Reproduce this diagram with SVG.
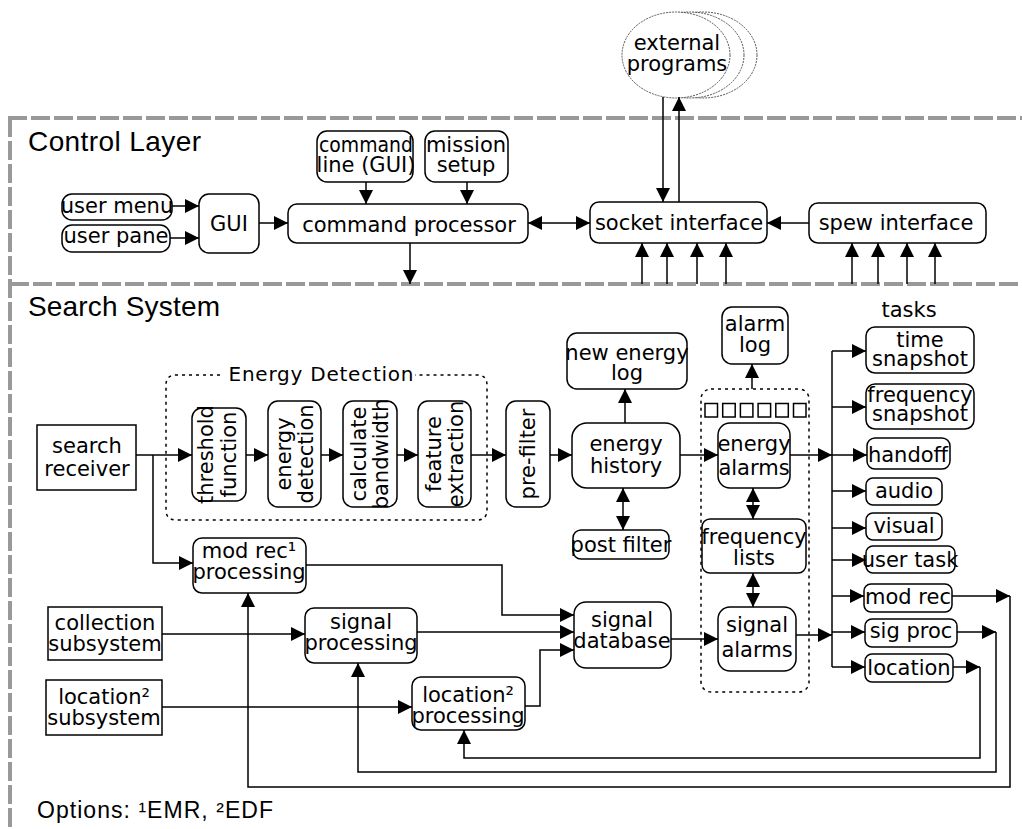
<svg xmlns="http://www.w3.org/2000/svg" width="1022" height="829" viewBox="0 0 1022 829">
<style>
.bg{fill:#fff}
.box{fill:#fff;stroke:#000;stroke-width:1.5}
.t{font-family:"DejaVu Sans",sans-serif;font-size:21px;text-anchor:middle;fill:#000}
.title{font-family:"Liberation Sans",Arial,sans-serif;font-size:28px;fill:#000}
.c{fill:none;stroke:#000;stroke-width:1.5}
.a{marker-end:url(#ah)}
.d{marker-start:url(#ahs);marker-end:url(#ah)}
.frame{fill:none;stroke:#999;stroke-width:4;stroke-dasharray:19 4}
.dot{fill:none;stroke:#000;stroke-width:1.5;stroke-dasharray:3 4}
.ell{fill:#fff;stroke:#555;stroke-width:1;stroke-dasharray:2 1}
</style>
<defs>
<marker id="ah" markerUnits="userSpaceOnUse" markerWidth="14" markerHeight="14" refX="14" refY="7" orient="auto"><path d="M0,0 L14,7 L0,14 z" fill="#000"/></marker>
<marker id="ahs" markerUnits="userSpaceOnUse" markerWidth="14" markerHeight="14" refX="14" refY="7" orient="auto-start-reverse"><path d="M0,0 L14,7 L0,14 z" fill="#000"/></marker>
</defs>
<rect class="bg" x="0" y="0" width="1022" height="829"/>

<g id="frame">
<path class="frame" d="M8,118 H1022"/>
<path class="frame" d="M10,284 H1022"/>
<path class="frame" d="M10,118 V829"/>
</g>
<text class="title" x="28" y="151" textLength="173" lengthAdjust="spacing">Control Layer</text>
<text class="title" x="28" y="316" textLength="192" lengthAdjust="spacing">Search System</text>
<text class="title" x="37" y="818" style="font-size:23px" textLength="236" lengthAdjust="spacing">Options: ¹EMR,  ²EDF</text>

<g id="external-programs">
<ellipse class="ell" cx="703" cy="55" rx="54" ry="43"/>
<ellipse class="ell" cx="690" cy="55" rx="54" ry="43"/>
<ellipse class="ell" cx="676" cy="55" rx="54" ry="43"/>
<text class="t" x="677" y="50">external</text>
<text class="t" x="677" y="71">programs</text>
</g>

<g id="energy-detection-group">
<path class="dot" d="M220,375 H176 Q166,375 166,385 V510 Q166,520 176,520 H477 Q487,520 487,510 V385 Q487,375 477,375 H415"/>
<text class="t" x="321" y="381" style="font-size:20px" textLength="185" lengthAdjust="spacing">Energy Detection</text>
</g>
<g id="alarm-group">
<rect class="dot" x="701" y="389" width="108" height="303" rx="10"/>
<rect class="box" x="705" y="403.5" width="12.5" height="13.5"/>
<rect class="box" x="722.7" y="403.5" width="12.5" height="13.5"/>
<rect class="box" x="740.4" y="403.5" width="12.5" height="13.5"/>
<rect class="box" x="758.1" y="403.5" width="12.5" height="13.5"/>
<rect class="box" x="775.8" y="403.5" width="12.5" height="13.5"/>
<rect class="box" x="793.5" y="403.5" width="12.5" height="13.5"/>
</g>

<g id="connectors">
<path class="c a" d="M172,206 H199"/>
<path class="c a" d="M170,238 H199"/>
<path class="c a" d="M259,223 H288"/>
<path class="c a" d="M366,182 V204"/>
<path class="c a" d="M467,182 V204"/>
<path class="c a" d="M410,243 V284"/>
<path class="c d" d="M528,223 H590"/>
<path class="c a" d="M809,223 H767"/>
<path class="c a" d="M663,97 V202"/>
<path class="c a" d="M679,202 V97"/>
<path class="c a" d="M642,284 V243"/>
<path class="c a" d="M667,284 V243"/>
<path class="c a" d="M697,284 V243"/>
<path class="c a" d="M726,284 V243"/>
<path class="c a" d="M852,284 V243"/>
<path class="c a" d="M878,284 V243"/>
<path class="c a" d="M907,284 V243"/>
<path class="c a" d="M935,284 V243"/>

<path class="c a" d="M136,455 H192"/>
<path class="c a" d="M153,455 V563 H193"/>
<path class="c a" d="M246,455 H268"/>
<path class="c a" d="M321,455 H343"/>
<path class="c a" d="M397,455 H418"/>
<path class="c a" d="M471,455 H506"/>
<path class="c a" d="M550,455 H572"/>
<path class="c a" d="M625,423 V389"/>
<path class="c d" d="M623,488 V530"/>
<path class="c a" d="M680,455 H718"/>
<path class="c a" d="M752,389 V364"/>
<path class="c a" d="M790,455 H832"/>
<path class="c d" d="M753,488 V519"/>
<path class="c d" d="M753,573 V607"/>
<path class="c a" d="M671,639 H718"/>
<path class="c a" d="M796,635 H832"/>
<path class="c" d="M832,351 V667"/>
<path class="c a" d="M832,351 H866"/>
<path class="c a" d="M832,407 H866"/>
<path class="c a" d="M832,455 H867"/>
<path class="c a" d="M832,491 H866"/>
<path class="c a" d="M832,528 H866"/>
<path class="c a" d="M832,560 H866"/>
<path class="c a" d="M832,596 H864"/>
<path class="c a" d="M832,632 H865"/>
<path class="c a" d="M832,667 H865"/>
<path class="c a" d="M952,596 H1010"/>
<path class="c a" d="M1010,596 V787 H248 V593"/>
<path class="c a" d="M957,632 H996"/>
<path class="c a" d="M996,632 V772 H358 V663"/>
<path class="c a" d="M953,667 H980"/>
<path class="c a" d="M980,667 V758 H464 V730"/>
<path class="c a" d="M306,565 H502 V615 H574"/>
<path class="c a" d="M162,634 H305"/>
<path class="c a" d="M417,632 H574"/>
<path class="c a" d="M162,707 H412"/>
<path class="c a" d="M525,706 H540 V650 H574"/>
</g>

<g id="user-menu"><rect class="box" x="62" y="194" width="110" height="26" rx="10"/><text class="t" x="117" y="213">user menu</text></g>
<g id="user-pane"><rect class="box" x="62" y="225" width="108" height="27" rx="10"/><text class="t" x="116" y="243">user pane</text></g>
<g id="gui"><rect class="box" x="199" y="194" width="60" height="59" rx="10"/><text class="t" x="229" y="231">GUI</text></g>
<g id="command-processor"><rect class="box" x="288" y="204" width="240" height="39" rx="9"/><text class="t" x="409" y="232">command processor</text></g>
<g id="command-line"><rect class="box" x="317" y="131" width="96" height="51" rx="10"/><text class="t" x="366" y="152" textLength="94" lengthAdjust="spacingAndGlyphs">command</text><text class="t" x="366" y="172">line (GUI)</text></g>
<g id="mission-setup"><rect class="box" x="425" y="131" width="83" height="51" rx="10"/><text class="t" x="466" y="152">mission</text><text class="t" x="466" y="172">setup</text></g>
<g id="socket-interface"><rect class="box" x="590" y="202" width="177" height="41" rx="9"/><text class="t" x="679" y="230">socket interface</text></g>
<g id="spew-interface"><rect class="box" x="809" y="203" width="177" height="40" rx="9"/><text class="t" x="896" y="230">spew interface</text></g>

<g id="search-receiver"><rect class="box" x="37" y="425" width="99" height="65"/><text class="t" x="87" y="453">search</text><text class="t" x="87" y="476">receiver</text></g>
<g id="threshold-function"><rect class="box" x="192" y="408" width="54" height="93" rx="10"/><text class="t" transform="translate(219,454.5) rotate(-90)"><tspan x="0" y="-6">threshold</tspan><tspan x="0" y="17">function</tspan></text></g>
<g id="energy-detection"><rect class="box" x="268" y="401" width="53" height="106" rx="10"/><text class="t" transform="translate(294.5,454) rotate(-90)"><tspan x="0" y="-4">energy</tspan><tspan x="0" y="18">detection</tspan></text></g>
<g id="calculate-bandwidth"><rect class="box" x="343" y="401" width="54" height="106" rx="10"/><text class="t" transform="translate(370,454) rotate(-90)"><tspan x="0" y="-4">calculate</tspan><tspan x="0" y="18">bandwidth</tspan></text></g>
<g id="feature-extraction"><rect class="box" x="418" y="401" width="53" height="106" rx="10"/><text class="t" transform="translate(444.5,454) rotate(-90)"><tspan x="0" y="-4">feature</tspan><tspan x="0" y="18">extraction</tspan></text></g>
<g id="pre-filter"><rect class="box" x="506" y="401" width="44" height="106" rx="10"/><text class="t" transform="translate(528,454) rotate(-90)"><tspan x="0" y="7">pre-filter</tspan></text></g>
<g id="energy-history"><rect class="box" x="572" y="423" width="108" height="65" rx="15"/><text class="t" x="626" y="451">energy</text><text class="t" x="626" y="473">history</text></g>
<g id="new-energy-log"><rect class="box" x="567" y="333" width="120" height="56" rx="10"/><text class="t" x="627" y="360">new energy</text><text class="t" x="627" y="380">log</text></g>
<g id="post-filter"><rect class="box" x="573" y="530" width="96" height="29" rx="8"/><text class="t" x="621" y="552">post filter</text></g>
<g id="alarm-log"><rect class="box" x="722" y="307" width="66" height="57" rx="10"/><text class="t" x="755" y="331">alarm</text><text class="t" x="755" y="352">log</text></g>
<g id="energy-alarms"><rect class="box" x="718" y="423" width="72" height="65" rx="12"/><text class="t" x="754" y="451">energy</text><text class="t" x="754" y="475">alarms</text></g>
<g id="frequency-lists"><rect class="box" x="702" y="519" width="104" height="54" rx="8"/><text class="t" x="754" y="544">frequency</text><text class="t" x="754" y="565">lists</text></g>
<g id="signal-alarms"><rect class="box" x="718" y="607" width="78" height="64" rx="12"/><text class="t" x="757" y="632">signal</text><text class="t" x="757" y="657">alarms</text></g>
<g id="signal-database"><rect class="box" x="574" y="602" width="97" height="66" rx="12"/><text class="t" x="622" y="627">signal</text><text class="t" x="622" y="648">database</text></g>

<text class="t" x="909" y="317">tasks</text>
<g id="time-snapshot"><rect class="box" x="866" y="327" width="108" height="46" rx="9"/><text class="t" x="920" y="347">time</text><text class="t" x="920" y="366">snapshot</text></g>
<g id="frequency-snapshot"><rect class="box" x="866" y="384" width="108" height="45" rx="9"/><text class="t" x="920" y="402">frequency</text><text class="t" x="920" y="421">snapshot</text></g>
<g id="handoff"><rect class="box" x="867" y="438" width="83" height="31" rx="8"/><text class="t" x="908" y="462">handoff</text></g>
<g id="audio"><rect class="box" x="866" y="478" width="76" height="27" rx="7"/><text class="t" x="904" y="498">audio</text></g>
<g id="visual"><rect class="box" x="866" y="513" width="76" height="27" rx="7"/><text class="t" x="904" y="533">visual</text></g>
<g id="user-task"><rect class="box" x="866" y="546" width="89" height="27" rx="7"/><text class="t" x="910" y="567">user task</text></g>
<g id="mod-rec"><rect class="box" x="864" y="584" width="88" height="28" rx="7"/><text class="t" x="908" y="604">mod rec</text></g>
<g id="sig-proc"><rect class="box" x="865" y="619" width="92" height="28" rx="7"/><text class="t" x="911" y="638">sig proc</text></g>
<g id="location"><rect class="box" x="865" y="654" width="88" height="28" rx="7"/><text class="t" x="909" y="675">location</text></g>

<g id="mod-rec-processing"><rect class="box" x="193" y="538" width="113" height="55" rx="9"/><text class="t" x="249" y="558">mod rec¹</text><text class="t" x="249" y="579">processing</text></g>
<g id="collection-subsystem"><rect class="box" x="48" y="607" width="114" height="53"/><text class="t" x="105" y="630">collection</text><text class="t" x="105" y="651">subsystem</text></g>
<g id="signal-processing"><rect class="box" x="305" y="608" width="112" height="55" rx="9"/><text class="t" x="361" y="629">signal</text><text class="t" x="361" y="650">processing</text></g>
<g id="location-subsystem"><rect class="box" x="46" y="680" width="116" height="55"/><text class="t" x="104" y="704">location²</text><text class="t" x="104" y="725">subsystem</text></g>
<g id="location-processing"><rect class="box" x="412" y="677" width="113" height="53" rx="9"/><text class="t" x="468" y="702">location²</text><text class="t" x="468" y="723">processing</text></g>
</svg>
